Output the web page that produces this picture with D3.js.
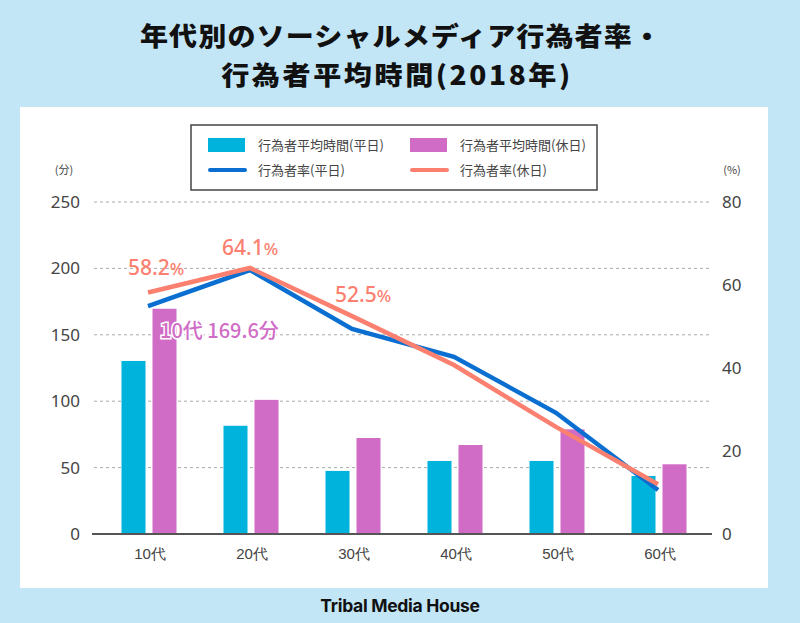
<!DOCTYPE html>
<html><head><meta charset="utf-8">
<script src="https://cdn.jsdelivr.net/npm/d3@7"></script>
<style>body{margin:0;background:#c3e6f6;}svg{display:block;font-family:"Noto Sans CJK JP","Noto Sans",sans-serif;}</style>
</head><body>
<svg id="c" width="800" height="623"></svg>
<script>
const categories = ["10代","20代","30代","40代","50代","60代"];
const timeWeekday = [130.3, 81.5, 47.5, 55.0, 55.0, 43.7];
const timeHoliday = [169.6, 101.0, 72.3, 67.0, 78.8, 52.5];
const rateWeekday = [54.9, 63.6, 49.4, 42.7, 29.2, 10.6];
const rateHoliday = [58.2, 64.1, 52.5, 40.7, 25.8, 12.0];
const leftTicks = [0,50,100,150,200,250];
const rightTicks = [0,20,40,60,80];
const titleLines = ["年代別のソーシャルメディア行為者率・","行為者平均時間(2018年)"];

const svg = d3.select("#c");
const C = {cyan:"#00b3dc", mag:"#d16cc6", blue:"#0a6fd0", salmon:"#fb806f"};

svg.append("rect").attr("width",800).attr("height",623).attr("fill","#c3e6f6");
svg.append("rect").attr("x",20).attr("y",107).attr("width",748).attr("height",481).attr("fill","#fff");

svg.selectAll("text.title").data(titleLines).enter().append("text")
  .attr("transform",(d,i)=>`translate(${i===0?401:397},${i===0?46:85}) scale(1.08,1)`)
  .attr("text-anchor","middle")
  .attr("font-size",26).attr("letter-spacing",(d,i)=>i===0?1:2.4)
  .attr("font-weight",900).attr("fill","#111").text(d=>d);

const x = d3.scaleBand().domain(categories).range([99,711]).paddingInner(0).paddingOuter(0);
const yL = d3.scaleLinear().domain([0,250]).range([534,202]);
const yR = d3.scaleLinear().domain([0,80]).range([534,202]);

// grid
svg.append("g").selectAll("line").data(leftTicks.filter(d=>d>0)).enter().append("line")
  .attr("x1",94).attr("x2",712).attr("y1",d=>yL(d)).attr("y2",d=>yL(d))
  .attr("stroke","#aaa").attr("stroke-width",1).attr("stroke-dasharray","3,3");

// axes
const gl = svg.append("g").attr("transform","translate(92,0)")
  .call(d3.axisLeft(yL).tickValues(leftTicks).tickSize(0).tickPadding(12));
gl.select(".domain").remove();
gl.selectAll("text").attr("font-size",17).attr("fill","#444").attr("font-family","'Noto Sans',sans-serif");
const gr = svg.append("g").attr("transform","translate(712,0)")
  .call(d3.axisRight(yR).tickValues(rightTicks).tickSize(0).tickPadding(10));
gr.select(".domain").remove();
gr.selectAll("text").attr("font-size",17).attr("fill","#444").attr("font-family","'Noto Sans',sans-serif");

const bw = 24, gap = 7;
svg.append("g").selectAll("rect").data(timeWeekday).enter().append("rect")
  .attr("x",(d,i)=>x(categories[i])+x.bandwidth()/2-gap/2-bw-1).attr("width",bw)
  .attr("y",d=>yL(d)).attr("height",d=>yL(0)-yL(d)).attr("fill",C.cyan);
svg.append("g").selectAll("rect").data(timeHoliday).enter().append("rect")
  .attr("x",(d,i)=>x(categories[i])+x.bandwidth()/2+gap/2-1).attr("width",bw)
  .attr("y",d=>yL(d)).attr("height",d=>yL(0)-yL(d)).attr("fill",C.mag);

// baseline
svg.append("line").attr("x1",92).attr("x2",712).attr("y1",yL(0)).attr("y2",yL(0)).attr("stroke","#555").attr("stroke-width",2);

const gx = svg.append("g").attr("transform",`translate(0,${yL(0)})`)
  .call(d3.axisBottom(x).tickSize(0).tickPadding(14));
gx.select(".domain").remove();
gx.selectAll("text").attr("font-size",15).attr("fill","#444");

const line = d3.line().x((d,i)=>x(categories[i])+x.bandwidth()/2-2).y(d=>yR(d));
svg.append("path").datum(rateWeekday).attr("d",line).attr("fill","none").attr("stroke",C.blue).attr("stroke-width",4.5);
svg.append("path").datum(rateHoliday).attr("d",line).attr("fill","none").attr("stroke",C.salmon).attr("stroke-width",4.5);

// annotations
const ann = [{i:0,v:rateHoliday[0],dx:-22,dy:-17},{i:1,v:rateHoliday[1],dx:-30,dy:-13},{i:2,v:rateHoliday[2],dx:-19,dy:-14}];
ann.forEach(a=>{
  const t = svg.append("text").attr("x",x(categories[a.i])+x.bandwidth()/2+a.dx).attr("y",yR(a.v)+a.dy)
    .attr("font-size",21).attr("font-weight",500).attr("fill",C.salmon).attr("font-family","'Noto Sans',sans-serif");
  t.append("tspan").text(a.v.toFixed(1));
  t.append("tspan").attr("font-size",17).text("%");
});
svg.append("text").attr("x",160).attr("y",yL(timeHoliday[0])+29)
  .attr("font-size",20).attr("font-weight",500).attr("fill",C.mag)
  .attr("stroke","#fff").attr("stroke-width",3).attr("paint-order","stroke")
  .text(categories[0]+" "+timeHoliday[0]+"分");

// unit labels
svg.append("text").attr("x",64).attr("y",174).attr("text-anchor","middle").attr("font-size",11).attr("fill","#444").text("(分)");
svg.append("text").attr("x",732).attr("y",174).attr("text-anchor","middle").attr("font-size",11).attr("fill","#444").text("(%)");

// legend
svg.append("rect").attr("x",191).attr("y",125).attr("width",406).attr("height",65).attr("fill","#fff").attr("stroke","#444").attr("stroke-width",1.5);
const leg = [
  {t:"行為者平均時間(平日)",c:C.cyan,type:"rect",x:208,y:145},
  {t:"行為者平均時間(休日)",c:C.mag,type:"rect",x:410,y:145},
  {t:"行為者率(平日)",c:C.blue,type:"line",x:208,y:170},
  {t:"行為者率(休日)",c:C.salmon,type:"line",x:410,y:170}];
leg.forEach(l=>{
  if(l.type==="rect") svg.append("rect").attr("x",l.x).attr("y",l.y-7).attr("width",37).attr("height",14).attr("fill",l.c);
  else svg.append("line").attr("x1",l.x+2).attr("x2",l.x+37).attr("y1",l.y).attr("y2",l.y).attr("stroke",l.c).attr("stroke-width",4).attr("stroke-linecap","round");
  svg.append("text").attr("x",l.x+50).attr("y",l.y+5).attr("font-size",13).attr("fill","#444").text(l.t);
});

svg.append("text").attr("x",400).attr("y",612).attr("text-anchor","middle").attr("font-size",17.5).attr("font-weight",700).attr("fill","#111").attr("font-family","Inter,'Noto Sans',sans-serif").attr("letter-spacing","-0.3").text("Tribal Media House");
</script>
</body></html>
